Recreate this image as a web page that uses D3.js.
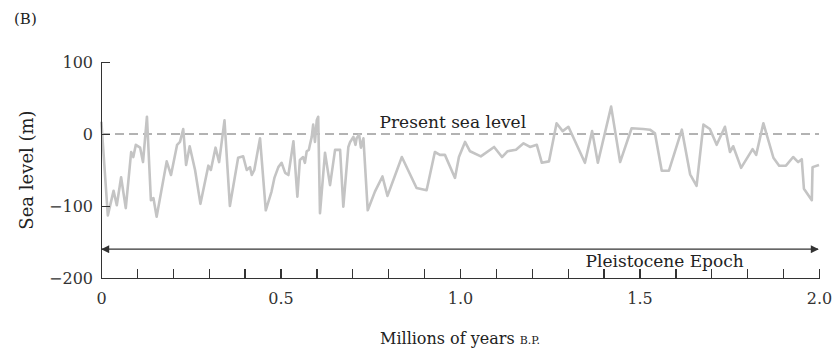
<!DOCTYPE html>
<html lang="en">
  <head>
    <meta charset="UTF-8" />
    <script src="https://d3js.org/d3.v7.min.js"></script>
    <title>Sea level</title>
    <style>
      body { margin: 0; background: #fff; }
      .axis path, .axis line { fill: none; stroke: #333; stroke-width: 1.3; shape-rendering: crispEdges; }
      .axis text { font-family: 'DejaVu Serif', serif; font-size: 16px; fill: #333; }
      text { font-family: 'DejaVu Serif', serif; fill: #222; }
    </style>
  </head>
  <body>
    <script>
      // millions of years before present
      var years = [
        0.001, 0.019, 0.035, 0.044, 0.056, 0.069, 0.084, 0.090, 0.097, 0.109,
        0.117, 0.128, 0.139, 0.146, 0.155, 0.183, 0.195, 0.212, 0.220, 0.229,
        0.237, 0.247, 0.262, 0.277, 0.299, 0.306, 0.319, 0.329, 0.344, 0.359,
        0.382, 0.396, 0.406, 0.415, 0.420, 0.427, 0.443, 0.459, 0.475, 0.483,
        0.494, 0.503, 0.513, 0.522, 0.536, 0.547, 0.554, 0.563, 0.568, 0.573,
        0.579, 0.582, 0.587, 0.591, 0.596, 0.601, 0.605, 0.610, 0.624, 0.638,
        0.652, 0.666, 0.675, 0.689, 0.694, 0.698, 0.703, 0.709, 0.712, 0.719,
        0.724, 0.731, 0.743, 0.763, 0.784, 0.798, 0.838, 0.879, 0.907, 0.930,
        0.944, 0.958, 0.986, 0.997, 1.014, 1.028, 1.058, 1.095, 1.117, 1.132,
        1.156, 1.177, 1.195, 1.214, 1.228, 1.248, 1.269, 1.286, 1.302, 1.348,
        1.368, 1.384, 1.421, 1.446, 1.478, 1.510, 1.529, 1.543, 1.562, 1.582,
        1.618, 1.641, 1.659, 1.678, 1.696, 1.715, 1.738, 1.752, 1.761, 1.783,
        1.815, 1.825, 1.845, 1.873, 1.889, 1.908, 1.928, 1.942, 1.952, 1.958,
        1.980, 1.982, 2.000
      ]
      // sea level relative to present (m)
      var seaLevel = [
        17, -113, -79, -99, -60, -103, -25, -32, -15, -19,
        -39, 24, -92, -89, -115, -38, -57, -15, -11, 7,
        -43, -17, -50, -97, -44, -50, -19, -39, 19, -100,
        -33, -31, -50, -46, -57, -50, -6, -106, -80, -61,
        -46, -40, -54, -57, -10, -87, -36, -32, -40, -24,
        -22, -15, -4, 13, -11, 19, 24, -110, -26, -71,
        -22, -22, -101, -18, -11, -8, -4, -15, -6, -1,
        -19, -6, -106, -80, -59, -86, -32, -75, -78, -25,
        -29, -29, -61, -32, -11, -24, -31, -18, -32, -24,
        -22, -13, -18, -15, -40, -38, 15, 4, 10, -40,
        4, -40, 38, -39, 8, 7, 6, 1, -51, -51,
        6, -56, -72, 13, 7, -15, 10, -25, -17, -47,
        -21, -29, 15, -33, -44, -44, -32, -39, -35, -76,
        -92, -46, -43
      ]
      var yTicks = [-200, -100, 0, 100]
      var xLabelTicks = [0, 0.5, 1.0, 1.5, 2.0]

      var width = 835
      var height = 358

      var svg = d3.select('body').append('svg')
        .attr('width', width)
        .attr('height', height)

      var x = d3.scaleLinear().domain([0, 2]).range([101, 819])
      var y = d3.scaleLinear().domain([-200, 100]).range([278, 62])

      var data = years.map(function (t, i) { return { t: t, v: seaLevel[i] } })

      // present sea level
      svg.append('line')
        .attr('x1', x(0)).attr('x2', x(2))
        .attr('y1', y(0)).attr('y2', y(0))
        .attr('stroke', '#666')
        .attr('stroke-width', 1)
        .attr('stroke-dasharray', '9,5')

      svg.append('text')
        .attr('x', x(0.98))
        .attr('y', y(0) - 6)
        .attr('text-anchor', 'middle')
        .attr('font-size', 17)
        .text('Present sea level')

      // sea level curve
      var line = d3.line()
        .x(function (d) { return x(d.t) })
        .y(function (d) { return y(d.v) })

      svg.append('path')
        .datum(data)
        .attr('fill', 'none')
        .attr('stroke', '#c4c4c4')
        .attr('stroke-width', 2.6)
        .attr('stroke-linejoin', 'round')
        .attr('d', line)

      // axes
      var xAxis = d3.axisBottom(x)
        .tickValues(d3.range(0, 21).map(function (i) { return i / 10 }))
        .tickSizeInner(-9)
        .tickSizeOuter(0)
        .tickPadding(15)
        .tickFormat(function (d) {
          var hit = xLabelTicks.some(function (v) { return Math.abs(v - d) < 1e-9 })
          if (!hit) return ''
          return d === 0 ? '0' : d3.format('.1f')(d)
        })

      svg.append('g')
        .attr('class', 'axis')
        .attr('transform', 'translate(0,' + y(-200) + ')')
        .call(xAxis)

      var yAxis = d3.axisLeft(y)
        .tickValues(yTicks)
        .tickSizeInner(-9)
        .tickSizeOuter(0)
        .tickPadding(8)

      svg.append('g')
        .attr('class', 'axis')
        .attr('transform', 'translate(' + x(0) + ',0)')
        .call(yAxis)

      // Pleistocene arrow
      var defs = svg.append('defs')
      defs.append('marker')
        .attr('id', 'head')
        .attr('viewBox', '0 0 10 10')
        .attr('refX', 9).attr('refY', 5)
        .attr('markerWidth', 10).attr('markerHeight', 8)
        .attr('markerUnits', 'userSpaceOnUse')
        .attr('orient', 'auto-start-reverse')
        .append('path')
        .attr('d', 'M0,0 L10,5 L0,10 Z')
        .attr('fill', '#333')

      svg.append('line')
        .attr('x1', x(0) + 1).attr('x2', x(2) - 1)
        .attr('y1', y(-160)).attr('y2', y(-160))
        .attr('stroke', '#333')
        .attr('stroke-width', 1.3)
        .attr('marker-start', 'url(#head)')
        .attr('marker-end', 'url(#head)')

      svg.append('text')
        .attr('x', x(1.57))
        .attr('y', y(-160) + 18)
        .attr('text-anchor', 'middle')
        .attr('font-size', 17)
        .text('Pleistocene Epoch')

      // titles
      var xt = svg.append('text')
        .attr('x', x(1.0))
        .attr('y', 344)
        .attr('text-anchor', 'middle')
        .attr('font-size', 16)
      xt.append('tspan').text('Millions of years ')
      xt.append('tspan').attr('font-size', 11).text('B.P.')

      svg.append('text')
        .attr('transform', 'translate(33,170) rotate(-90)')
        .attr('text-anchor', 'middle')
        .attr('font-size', 18)
        .text('Sea level (m)')

      svg.append('text')
        .attr('x', 14)
        .attr('y', 24)
        .attr('font-size', 15)
        .text('(B)')
    </script>
  </body>
</html>
